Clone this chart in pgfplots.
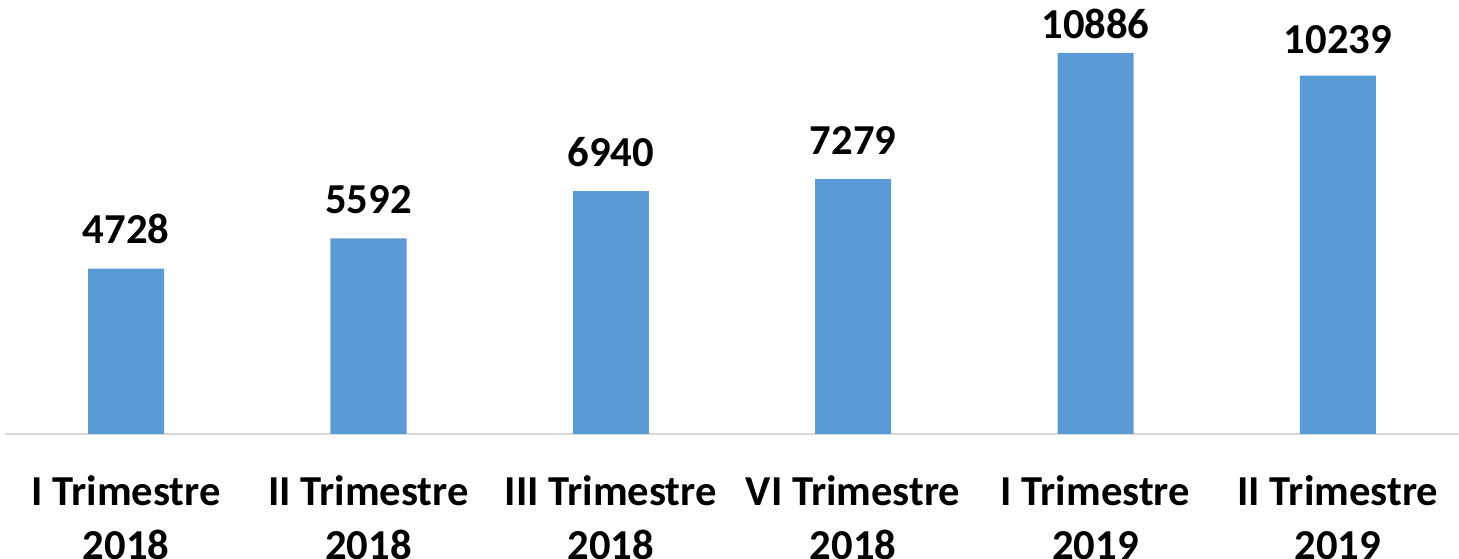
\documentclass[border=0pt]{standalone}
\usepackage{pgfplots}
\pgfplotsset{compat=1.18}
\usepackage{pgfplotstable}
\usepackage{fontspec}
\setmainfont{Carlito}
\definecolor{barblue}{HTML}{5B9BD5}
\definecolor{axgray}{HTML}{D9D9D9}
\pgfplotstableread{
x y s
0 4728 18
1 5592 18
2 6940 18
3 7279 18
4 10886 10.5
5 10239 16.5
}\datatable
\begin{document}
\begin{tikzpicture}
\path[use as bounding box] (-3.75pt,-93.75pt) rectangle (1090.5pt,325.5pt);
\begin{axis}[
  at={(0pt,0pt)}, anchor=south west,
  scale only axis,
  width=1090.5pt, height=325.5pt,
  xmin=-0.5, xmax=5.5, ymin=0, ymax=12400,
  axis x line*=bottom,
  axis y line=none,
  x axis line style={draw=axgray, line width=1.5pt, -},
  xtick=data,
  xticklabels={{I Trimestre\\2018},{II Trimestre\\2018},{III Trimestre\\2018},{VI Trimestre\\2018},{I Trimestre\\2019},{II Trimestre\\2019}},
  major tick length=0pt,
  xticklabel style={align=center, font=\bfseries\fontsize{32}{40.5}\selectfont, anchor=north, inner sep=0pt, yshift=-31pt},
  ybar, bar width=57pt,
  visualization depends on={\thisrow{s} \as \myshift},
  nodes near coords,
  nodes near coords style={font=\bfseries\fontsize{32}{36}\selectfont, anchor=south, inner sep=0pt, yshift=\myshift pt, /pgf/number format/.cd, fixed, precision=0, 1000 sep={}, assume math mode=true},
  clip=false,
]
\addplot[fill=barblue, draw=none] table[x=x, y=y] {\datatable};
\end{axis}
\end{tikzpicture}
\end{document}
